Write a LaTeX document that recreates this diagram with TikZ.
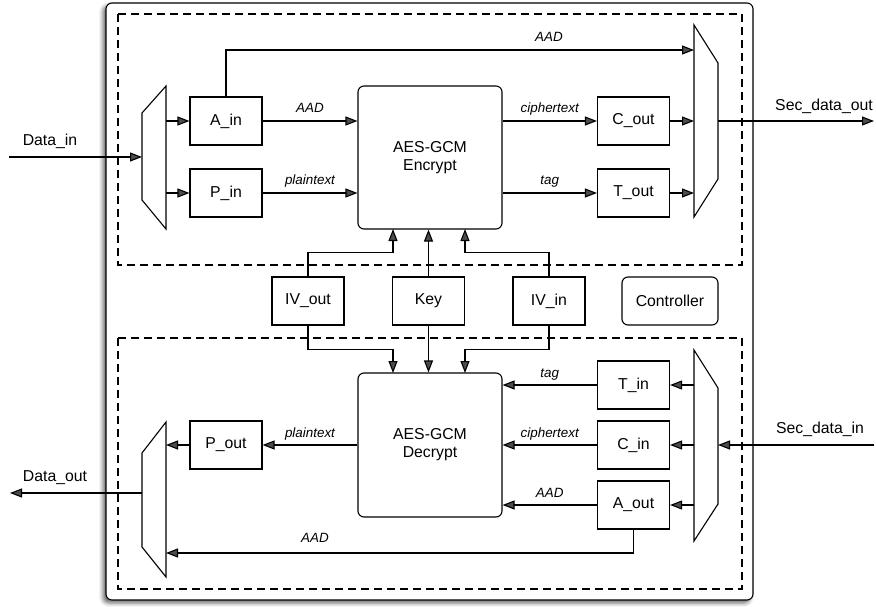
\documentclass[tikz,border=0pt]{standalone}
\usepackage{fontspec}
\setmainfont{Liberation Sans}
\usetikzlibrary{arrows.meta,shadows,shadows.blur,calc}
\begin{document}
\begin{tikzpicture}[x=1pt,y=-1pt,line width=1.1pt,line join=miter,
  blk/.style={draw,minimum width=72pt,minimum height=48pt,inner sep=0pt,font=\fontsize{15.8}{17}\selectfont},
  core/.style={draw,rounded corners=6pt,minimum width=144pt,minimum height=143pt,inner sep=0pt,align=center,font=\fontsize{15.8}{18}\selectfont},
  ctrl/.style={draw,rounded corners=6pt,minimum width=96pt,minimum height=48pt,inner sep=0pt,font=\fontsize{15.8}{17}\selectfont},
  arr/.style={-{Triangle[length=12pt,width=9pt]}},
  lbl/.style={anchor=base,yshift=8pt,inner sep=0pt,font=\fontsize{13.4}{15}\selectfont\itshape},
  ext/.style={anchor=base,inner sep=0pt,font=\fontsize{15.8}{17}\selectfont},
  grp/.style={dash pattern=on 8pt off 5pt},
  mux/.style={draw}
]
\useasboundingbox (0,0) rectangle (876,607);
% outer frame
\path[draw,fill=white,rounded corners=6pt,blur shadow={shadow xshift=-3pt,shadow yshift=-3pt,shadow blur radius=4pt,shadow opacity=60}] (106,3) rectangle (753,600);
% groups
\draw[grp] (118,14) rectangle (742,265);
\draw[grp] (118,338) rectangle (742,589);

% muxes
\draw[mux] (142,113) -- (166,86) -- (166,229) -- (142,200) -- cycle;
\draw[mux] (694,25) -- (718,63) -- (718,179) -- (694,217) -- cycle;
\draw[mux] (694,350) -- (718,388) -- (718,504) -- (694,541) -- cycle;
\draw[mux] (142,453) -- (166,422) -- (166,577) -- (142,547) -- cycle;
\coordinate (mIn) at (142,157);
\coordinate (mA) at (166,121);
\coordinate (mP) at (166,193);
\coordinate (mAAD) at (694,50);
\coordinate (mC) at (694,121);
\coordinate (mT) at (694,193);
\coordinate (mOut) at (718,121);
\coordinate (mTi) at (694,385);
\coordinate (mCi) at (694,445);
\coordinate (mAi) at (694,505);
\coordinate (mSin) at (718,445);
\coordinate (mPo) at (166,445);
\coordinate (mAo) at (166,553);
\coordinate (mDout) at (142,493);
\coordinate (din) at (9,157);
\coordinate (sout) at (874,121);
\coordinate (sin) at (874,445);
\coordinate (dout) at (10,493);

% blocks
\node[blk] (ain) at (226,121) {A\_in};
\node[blk] (pin) at (226,193) {P\_in};
\node[core] (enc) at (430,157.5) {AES-GCM\\Encrypt};
\node[blk] (cout) at (633.5,121) {C\_out};
\node[blk] (tout) at (633.5,193) {T\_out};
\node[blk] (ivout) at (308,301) {IV\_out};
\node[blk] (key) at (428.5,301) {Key};
\node[blk] (ivin) at (549,301) {IV\_in};
\node[ctrl] (ctrl) at (670,301) {Controller};
\node[core,minimum height=144pt] (dec) at (430,445) {AES-GCM\\Decrypt};
\node[blk] (tin) at (633.5,385) {T\_in};
\node[blk] (cin) at (633.5,445) {C\_in};
\node[blk] (aout) at (633.5,505) {A\_out};
\node[blk] (pout) at (226,445) {P\_out};

\coordinate (e1) at (393,229);
\coordinate (e3) at (465,229);
\coordinate (d1) at (393,373);
\coordinate (d3) at (465,373);

% encrypt side
\draw[arr] (din) -- (mIn);
\node[ext] (ldin) at (50,146) {Data\_in};
\draw[arr] (mA) -- (ain.west);
\draw[arr] (mP) -- (pin.west);
\draw[arr] (ain.east) -- (ain.east -| enc.west) node[lbl,midway] {AAD};
\draw[arr] (pin.east) -- (pin.east -| enc.west) node[lbl,midway] {plaintext};
\draw[arr] (ain.north) |- (mAAD);
\node[lbl,yshift=-8pt] (laad1) at (549,42) {AAD};
\draw[arr] (enc.east |- cout.west) -- (cout.west) node[lbl,midway] {ciphertext};
\draw[arr] (enc.east |- tout.west) -- (tout.west) node[lbl,midway] {tag};
\draw[arr] (cout.east) -- (mC);
\draw[arr] (tout.east) -- (mT);
\draw[arr] (mOut) -- (sout);
\node[ext] (lsout) at (824,111) {Sec\_data\_out};

% key / iv
\draw[arr] (ivout.north) -- ++(0,-24) -| (e1);
\draw[arr] (key.north) -- (key.north |- enc.south);
\draw[arr] (ivin.north) -- ++(0,-24) -| (e3);
\draw[arr] (ivout.south) -- ++(0,24) -| (d1);
\draw[arr] (key.south) -- (key.south |- dec.north);
\draw[arr] (ivin.south) -- ++(0,24) -| (d3);

% decrypt side
\draw[arr] (sin) -- (mSin);
\node[ext] (lsin) at (820,433) {Sec\_data\_in};
\draw[arr] (mTi) -- (tin.east);
\draw[arr] (mCi) -- (cin.east);
\draw[arr] (mAi) -- (aout.east);
\draw[arr] (tin.west) -- (tin.west -| dec.east) node[lbl,midway] {tag};
\draw[arr] (cin.west) -- (cin.west -| dec.east) node[lbl,midway] {ciphertext};
\draw[arr] (aout.west) -- (aout.west -| dec.east) node[lbl,midway] {AAD};
\draw[arr] (aout.south) |- (mAo);
\node[lbl,yshift=-8pt] (laad2) at (315,542) {AAD};
\draw[arr] (dec.west |- pout.east) -- (pout.east) node[lbl,midway] {plaintext};
\draw[arr] (pout.west) -- (mPo);
\draw[arr] (mDout) -- (dout);
\node[ext] (ldout) at (55,481) {Data\_out};
\end{tikzpicture}
\end{document}
